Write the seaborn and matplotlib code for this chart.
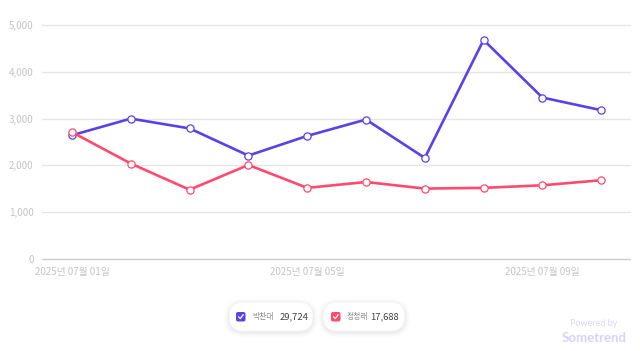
import matplotlib
matplotlib.use("Agg")
import matplotlib.pyplot as plt
import seaborn as sns
import pandas as pd
from matplotlib.patches import FancyBboxPatch

dates = ["2025년 07월 01일", "2025년 07월 02일", "2025년 07월 03일", "2025년 07월 04일",
         "2025년 07월 05일", "2025년 07월 06일", "2025년 07월 07일", "2025년 07월 08일",
         "2025년 07월 09일", "2025년 07월 10일"]
series_names = ["박찬대", "정청래"]
park = [2644, 3000, 2790, 2210, 2630, 2980, 2160, 4680, 3450, 3180]
jung = [2710, 2040, 1480, 2010, 1520, 1645, 1505, 1520, 1575, 1683]
colors = ["#5B41E6", "#FF4A6E"]
y_ticks = [0, 1000, 2000, 3000, 4000, 5000]

sns.set_theme(style="white")
plt.rcParams['font.family'] = ['Noto Sans CJK KR', 'DejaVu Sans']

df = pd.DataFrame({
    "idx": list(range(len(dates))) * 2,
    "value": park + jung,
    "series": [series_names[0]] * len(dates) + [series_names[1]] * len(dates),
})

W, H = 640, 351
fig = plt.figure(figsize=(W / 100, H / 100), dpi=100)
ax = fig.add_axes([42 / W, 1 - 259 / H, (630 - 42) / W, (259 - 25) / H])

sns.lineplot(data=df, x="idx", y="value", hue="series", palette=colors,
             linewidth=1.9, marker="o", markersize=5.2, markerfacecolor="white",
             markeredgewidth=0.9, legend=False, ax=ax, zorder=3)
for line, c in zip(ax.get_lines(), colors):
    line.set_markeredgecolor(c)

ax.set_xlim(-0.51, 9.49)
ax.set_ylim(0, 5000)
ax.set_yticks(y_ticks)
ax.set_yticklabels([f"{v:,}" for v in y_ticks], fontsize=7, color="#c4c4c4")
ax.set_xticks([0, 4, 8])
ax.set_xticklabels([dates[0], dates[4], dates[8]], fontsize=7, color="#c4c4c4")
ax.tick_params(axis="y", length=0, pad=6)
ax.tick_params(axis="x", length=0, pad=6)
for v in y_ticks[1:]:
    ax.axhline(v, color="#e6e6e6", linewidth=1.0, zorder=1, clip_on=False)
ax.axhline(0, color="#cccccc", linewidth=1.0, zorder=1, clip_on=False)
for s in ax.spines.values():
    s.set_visible(False)
ax.set_xlabel("")
ax.set_ylabel("")

# overlay in pixel coordinates for the custom legend
lax = fig.add_axes([0, 0, 1, 1], zorder=-1)
lax.set_xlim(0, W)
lax.set_ylim(H, 0)
lax.axis("off")
lax.patch.set_alpha(0)

totals = [sum(park), sum(jung)]
pills = [(229, 313, 236, 252.5, 279.5), (323, 405, 331, 347, 370.5)]
for (x0, x1, cbx, tx, nx), name, tot, c in zip(pills, series_names, totals, colors):
    for k, a in [(5, 0.012), (3.5, 0.015), (2, 0.02), (1, 0.025)]:
        sh = FancyBboxPatch((x0 - k, 302 - k + 1.5), x1 - x0 + 2 * k, 29 + 2 * k,
                            boxstyle=f"round,pad=0,rounding_size={14.5 + k}",
                            facecolor="#000000", alpha=a, edgecolor="none")
        lax.add_patch(sh)
    p = FancyBboxPatch((x0, 302), x1 - x0, 29,
                       boxstyle="round,pad=0,rounding_size=14.5",
                       facecolor="white", edgecolor="#f3f3f3", linewidth=0.5)
    lax.add_patch(p)
    cb = FancyBboxPatch((cbx, 312), 9.5, 9.5,
                        boxstyle="round,pad=0,rounding_size=2",
                        facecolor=c, edgecolor="none")
    lax.add_patch(cb)
    lax.plot([cbx + 2.5, cbx + 4.3, cbx + 7.2], [316.8, 318.6, 314.6], color="white",
             linewidth=0.9, solid_capstyle="round", solid_joinstyle="round")
    lax.text(tx, 317, name, fontsize=5.6, color="#8a8a8a", ha="left", va="center")
    lax.text(nx, 317, f"{tot:,}", fontsize=6.8, color="#444444", ha="left", va="center")

lax.text(594, 323, "Powered by", fontsize=6.5, color="#dcd8f6", ha="center", va="center",
         family=["Lato", "DejaVu Sans"])
lax.text(594, 338, "Sometrend", fontsize=9.5, color="#d8d3f5", ha="center", va="center",
         family=["Lato", "DejaVu Sans"], fontweight="bold")

fig.savefig("out.png", dpi=100)
